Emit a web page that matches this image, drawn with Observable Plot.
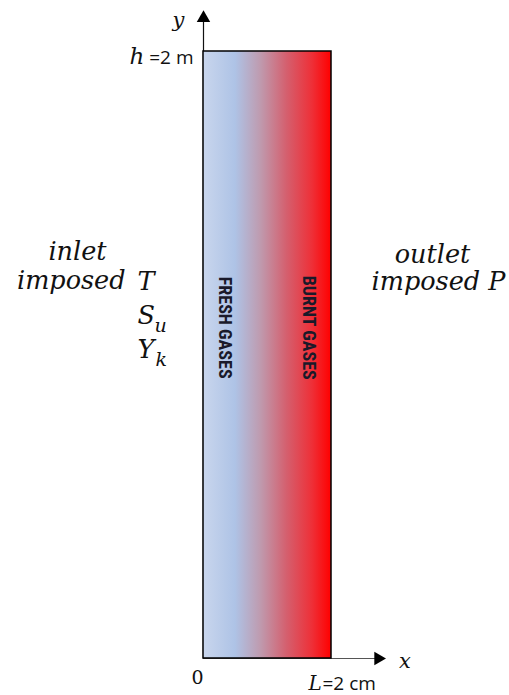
<!DOCTYPE html>
<html>
<head>
<meta charset="utf-8">
<script src="https://cdn.jsdelivr.net/npm/d3@7"></script>
<script src="https://cdn.jsdelivr.net/npm/@observablehq/plot@0.6"></script>
<style>
  html, body { margin: 0; padding: 0; background: #fff; }
  #chart svg { display: block; }
</style>
</head>
<body>
<div id="chart"></div>
<script>
// Domain: channel width L (cm) and height h (m)
const xDomain = [0, 2];
const yDomain = [0, 2];
const axisExtent = {x: 2.85, y: 2.13};
const domainRect = [{x1: 0, x2: 2, y1: 0, y2: 2}];
const gradientStops = [
  {offset: 0.00, color: "#c9d6ed"},
  {offset: 0.25, color: "#aec3e6"},
  {offset: 0.45, color: "#bf9aae"},
  {offset: 0.65, color: "#d4606f"},
  {offset: 0.85, color: "#ee3038"},
  {offset: 1.00, color: "#ff0000"}
];
const zoneLabels = [
  {label: "FRESH GASES", x: 0.34},
  {label: "BURNT GASES", x: 1.64}
];
const xTickLabels = ["0", "L", "=2 cm"];
const yTickLabels = ["h", "=2 m"];
const inletLabels = ["inlet", "imposed", "T", "S", "u", "Y", "k"];
const outletLabels = ["outlet", "imposed P"];

const math = "DejaVu Serif";
const sans = "'Open Sans', 'Noto Sans', sans-serif";
const narrow = "'Liberation Sans Narrow', 'Arial Narrow', 'Roboto Condensed', 'Open Sans', sans-serif";

const defs = () => {
  const ns = "http://www.w3.org/2000/svg";
  const d = document.createElementNS(ns, "defs");
  const g = document.createElementNS(ns, "linearGradient");
  g.setAttribute("id", "flameGrad");
  g.setAttribute("x1", "0"); g.setAttribute("x2", "1");
  g.setAttribute("y1", "0"); g.setAttribute("y2", "0");
  for (const s of gradientStops) {
    const st = document.createElementNS(ns, "stop");
    st.setAttribute("offset", s.offset);
    st.setAttribute("stop-color", s.color);
    g.appendChild(st);
  }
  d.appendChild(g);
  return d;
};

const mathText = (text, x, y, dx, dy, opts = {}) =>
  Plot.text([text], {x: () => x, y: () => y, text: d => d, dx, dy,
    fontFamily: math, fontStyle: "italic", fontSize: 25.5, fill: "#111",
    textAnchor: "start", ...opts});

const chart = Plot.plot({
  width: 509,
  height: 695,
  marginLeft: 203,
  marginRight: 178,
  marginTop: 51,
  marginBottom: 37,
  x: {domain: xDomain, axis: null},
  y: {domain: yDomain, axis: null},
  marks: [
    defs,
    // x axis line (gray) and y axis line
    Plot.ruleY([0], {x1: xDomain[0], x2: axisExtent.x - 0.12, stroke: "#555", strokeWidth: 1.2}),
    Plot.ruleX([0], {y1: yDomain[0], y2: axisExtent.y - 0.02, stroke: "#111", strokeWidth: 1.2}),
    Plot.dot([{x: axisExtent.x - 0.12, y: 0}], {x: "x", y: "y", symbol: "triangle", r: 5, rotate: 90, fill: "#000", stroke: null}),
    Plot.dot([{x: 0, y: axisExtent.y - 0.02}], {x: "x", y: "y", symbol: "triangle", r: 5, fill: "#000", stroke: null}),
    // domain rectangle with gradient
    Plot.rect(domainRect, {x1: "x1", x2: "x2", y1: "y1", y2: "y2", fill: "url(#flameGrad)", stroke: "#000", strokeWidth: 1.5, inset: 0}),
    // zone labels
    Plot.text(zoneLabels, {x: "x", y: () => 1.09, text: "label", rotate: 90,
      fontFamily: narrow, fontWeight: "bold", fontSize: 18, fill: "#1a1a2a"}),
    // y axis label and tick
    mathText("y", 0, axisExtent.y, -31, 8, {fontSize: 21}),
    mathText(yTickLabels[0], 0, yDomain[1], -74, 5, {fontSize: 23}),
    Plot.text([yTickLabels[1]], {x: () => 0, y: () => yDomain[1], text: d => d, dx: -10, dy: 6,
      textAnchor: "end", fontFamily: sans, fontSize: 19, fill: "#111"}),
    // x axis labels
    Plot.text([xTickLabels[0]], {x: () => 0, y: () => 0, text: d => d, dx: -6, dy: 19,
      fontFamily: math, fontSize: 19, fill: "#111"}),
    mathText(xTickLabels[1], xDomain[1], 0, -23, 25, {fontSize: 20}),
    Plot.text([xTickLabels[2]], {x: () => xDomain[1], y: () => 0, text: d => d, dx: -9, dy: 25,
      textAnchor: "start", fontFamily: sans, fontSize: 19, fill: "#111"}),
    mathText("x", axisExtent.x, 0, 13, 3, {fontSize: 21}),
    // inlet labels
    mathText(inletLabels[0], 0, 1, -126, -103, {textAnchor: "middle"}),
    mathText(inletLabels[1], 0, 1, -78, -74, {textAnchor: "end"}),
    mathText(inletLabels[2], 0, 1, -66, -73),
    mathText(inletLabels[3], 0, 1, -66, -39),
    mathText(inletLabels[4], 0, 1, -49, -29, {fontSize: 19}),
    mathText(inletLabels[5], 0, 1, -66, -5),
    mathText(inletLabels[6], 0, 1, -48, 5, {fontSize: 19}),
    // outlet labels
    mathText(outletLabels[0], xDomain[1], 1, 101, -100, {textAnchor: "middle"}),
    mathText(outletLabels[1], xDomain[1], 1, 107, -73, {textAnchor: "middle"})
  ]
});
chart.style.overflow = "visible";
document.getElementById("chart").appendChild(chart);
</script>
</body>
</html>
